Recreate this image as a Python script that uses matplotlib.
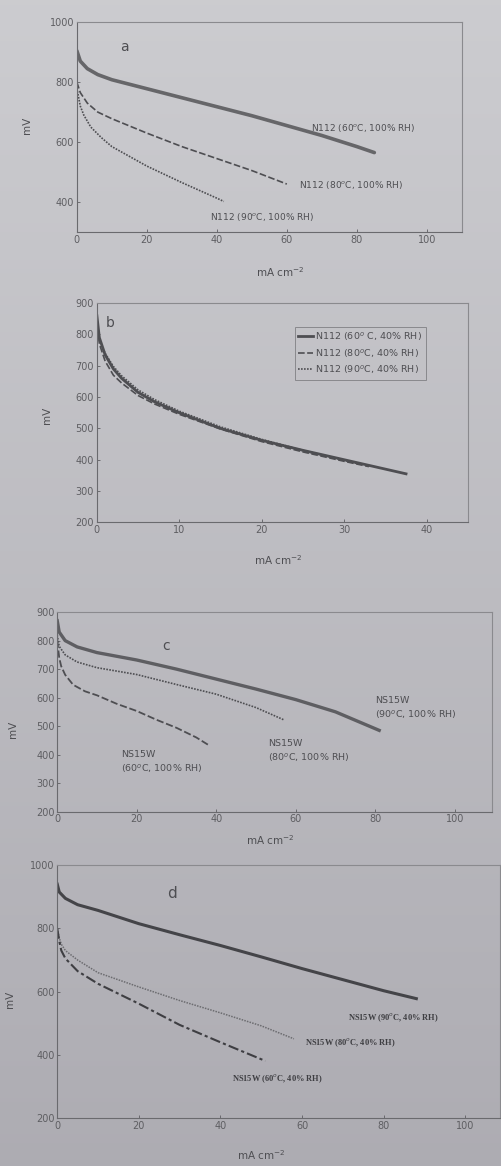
import numpy as np
import matplotlib.pyplot as plt

# ---- panel a : N112, 100% RH ----
a_x_60 = [0, 1, 3, 6, 10, 20, 30, 40, 50, 60, 70, 80, 85]
a_y_60 = [905, 870, 845, 825, 808, 778, 748, 718, 688, 655, 622, 585, 565]
a_x_80 = [0, 1, 3, 6, 10, 20, 30, 40, 50, 60]
a_y_80 = [800, 765, 730, 700, 678, 630, 585, 545, 505, 460]
a_x_90 = [0, 1, 2, 4, 7, 10, 20, 30, 40, 42]
a_y_90 = [780, 720, 690, 650, 615, 585, 520, 465, 413, 402]

# ---- panel b : N112, 40% RH ----
b_x_60 = [0, 0.3, 1, 2, 3, 5, 7, 10, 15, 20, 25, 30, 35, 37.5]
b_y_60 = [860, 790, 735, 690, 660, 615, 585, 550, 500, 462, 430, 400, 370, 355]
b_x_80 = [0, 0.3, 1, 2, 3, 5, 7, 10, 15, 20, 25, 30, 33]
b_y_80 = [850, 770, 715, 670, 645, 605, 578, 545, 498, 458, 425, 395, 378]
b_x_90 = [0, 0.3, 1, 2, 3, 5, 7, 10, 15, 20, 25, 30, 32]
b_y_90 = [840, 780, 740, 698, 668, 623, 592, 555, 505, 465, 430, 398, 385]

# ---- panel c : NS15W, 100% RH ----
c_x_90 = [0, 0.5, 2, 5, 10, 20, 30, 40, 50, 60, 70, 81]
c_y_90 = [870, 830, 800, 778, 758, 732, 700, 665, 630, 593, 550, 485]
c_x_80 = [0, 0.5, 2, 5, 10, 20, 30, 40, 50, 57]
c_y_80 = [820, 780, 750, 725, 705, 681, 646, 612, 565, 522]
c_x_60 = [0, 0.5, 1, 2, 4, 7, 10, 15, 20, 25, 30, 35, 38]
c_y_60 = [800, 740, 710, 680, 645, 622, 608, 578, 553, 522, 494, 460, 434]

# ---- panel d : NS15W, 40% RH ----
d_x_90 = [0, 0.5, 2, 5, 10, 20, 30, 40, 50, 60, 70, 80, 88]
d_y_90 = [940, 915, 895, 875, 857, 815, 780, 746, 710, 673, 638, 603, 578]
d_x_80 = [0, 0.5, 1, 2, 5, 10, 20, 30, 40, 50, 58]
d_y_80 = [800, 770, 750, 730, 700, 660, 615, 572, 533, 492, 451]
d_x_60 = [0, 0.5, 1, 2, 5, 10, 20, 30, 40, 51]
d_y_60 = [800, 760, 730, 705, 665, 625, 562, 495, 440, 381]

bg_top = np.array([0.80, 0.80, 0.815])
bg_bot = np.array([0.68, 0.675, 0.70])
ink = '#4e4e52'
tick_col = '#5e5e62'

plt.rcParams['font.family'] = ['DejaVu Sans']
fig = plt.figure(figsize=(5.02, 11.66), dpi=100, facecolor=tuple(bg_top))

# photo-like background, lighter at the top
bgax = fig.add_axes([0, 0, 1, 1], zorder=-10)
t = np.linspace(0, 1, 256)[:, None, None]
grad = bg_top * (1 - t) + bg_bot * t
bgax.imshow(grad, aspect='auto', extent=(0, 1, 0, 1), origin='upper')
bgax.axis('off')


def style(ax, xlim, ylim, xticks, yticks, xlab_pos, ylab_pos):
    ax.set_facecolor('none')
    ax.set_xlim(*xlim)
    ax.set_ylim(*ylim)
    ax.set_xticks(xticks)
    ax.set_yticks(yticks)
    ax.tick_params(direction='in', length=2, width=0.6, colors=tick_col,
                   labelsize=7, pad=2)
    for side, sp in ax.spines.items():
        sp.set_color('#8a8a8e' if side in ('top', 'right') else '#6a6a6e')
        sp.set_linewidth(0.8)
    ax.set_xlabel('mA cm$^{-2}$', fontsize=7.5, color=ink)
    ax.set_ylabel('mV', fontsize=7.5, color=ink)
    ax.xaxis.set_label_coords(*xlab_pos)
    ax.yaxis.set_label_coords(*ylab_pos)


# panel a
ax = fig.add_axes([0.153, 0.801, 0.767, 0.180])
ax.plot(a_x_60, a_y_60, color='#666669', lw=2.6, solid_capstyle='round')
ax.plot(a_x_80, a_y_80, color=ink, lw=1.2, ls=(0, (4, 1.5)))
ax.plot(a_x_90, a_y_90, color=ink, lw=1.2, ls=(0, (1, 0.8)))
style(ax, (0, 110), (300, 1000), range(0, 101, 20), [400, 600, 800, 1000],
      (0.527, -0.16), (-0.117, 0.51))
ax.text(0.125, 0.88, 'a', transform=ax.transAxes, fontsize=10, color=ink,
        ha='center', va='center')
ax.text(67, 647, 'N112 (60$^{o}$C, 100% RH)', fontsize=6.5, color=ink, va='center')
ax.text(63.5, 457, 'N112 (80$^{o}$C, 100% RH)', fontsize=6.5, color=ink, va='center')
ax.text(38, 350, 'N112 (90$^{o}$C, 100% RH)', fontsize=6.5, color=ink, va='center')

# panel b
ax = fig.add_axes([0.193, 0.552, 0.739, 0.188])
ax.plot(b_x_60, b_y_60, color=ink, lw=2.0, label='N112 (60$^{o}$ C, 40% RH)')
ax.plot(b_x_80, b_y_80, color=ink, lw=1.2, ls=(0, (4, 1.5)),
        label='N112 (80$^{o}$C, 40% RH)')
ax.plot(b_x_90, b_y_90, color=ink, lw=1.2, ls=(0, (1, 0.8)),
        label='N112 (90$^{o}$C, 40% RH)')
style(ax, (0, 45), (200, 900), range(0, 41, 10), range(200, 901, 100),
      (0.49, -0.14), (-0.121, 0.49))
ax.text(0.035, 0.91, 'b', transform=ax.transAxes, fontsize=10, color=ink,
        ha='center', va='center')
leg = ax.legend(loc='upper right', bbox_to_anchor=(0.9, 0.915), fontsize=6.8,
                frameon=True, fancybox=False, handlelength=1.6,
                handletextpad=0.2, borderpad=0.4, labelspacing=0.35,
                labelcolor=ink)
leg.get_frame().set_facecolor('none')
leg.get_frame().set_edgecolor('#7a7a7e')
leg.get_frame().set_linewidth(0.7)

# panel c
ax = fig.add_axes([0.114, 0.304, 0.867, 0.171])
ax.plot(c_x_90, c_y_90, color='#5e5e62', lw=2.4)
ax.plot(c_x_80, c_y_80, color=ink, lw=1.2, ls=(0, (1, 0.8)))
ax.plot(c_x_60, c_y_60, color=ink, lw=1.3, ls=(0, (4, 1.5)))
style(ax, (0, 109.5), (200, 900), range(0, 101, 20), range(200, 901, 100),
      (0.49, -0.11), (-0.09, 0.41))
ax.text(0.25, 0.83, 'c', transform=ax.transAxes, fontsize=10, color=ink,
        ha='center', va='center')
ax.text(80, 561, 'NS15W\n(90$^{o}$C, 100% RH)', fontsize=6.8, color=ink,
        va='center', linespacing=1.3)
ax.text(53, 412, 'NS15W\n(80$^{o}$C, 100% RH)', fontsize=6.8, color=ink,
        va='center', linespacing=1.3)
ax.text(16, 373, 'NS15W\n(60$^{o}$C, 100% RH)', fontsize=6.8, color=ink,
        va='center', linespacing=1.3)

# panel d
ax = fig.add_axes([0.114, 0.041, 0.882, 0.217])
ax.plot(d_x_90, d_y_90, color='#444448', lw=2.2)
ax.plot(d_x_80, d_y_80, color='#6c6c70', lw=1.1, ls=(0, (1, 0.8)))
ax.plot(d_x_60, d_y_60, color='#3e3e42', lw=1.5, ls=(0, (5, 1.5, 1.5, 1.5)))
style(ax, (0, 108.5), (200, 1000), range(0, 101, 20), range(200, 1001, 200),
      (0.46, -0.12), (-0.095, 0.47))
ax.text(0.26, 0.89, 'd', transform=ax.transAxes, fontsize=11, color=ink,
        ha='center', va='center')
ax.text(71.3, 517, 'NS15W (90$^{o}$C, 40% RH)', fontsize=6, color='#3e3e42',
        va='center', family='Liberation Serif', weight='bold')
ax.text(60.8, 438, 'NS15W (80$^{o}$C, 40% RH)', fontsize=6, color='#3e3e42',
        va='center', family='Liberation Serif', weight='bold')
ax.text(42.9, 324, 'NS15W (60$^{o}$C, 40% RH)', fontsize=6, color='#3e3e42',
        va='center', family='Liberation Serif', weight='bold')

fig.savefig('out.png', dpi=100)
